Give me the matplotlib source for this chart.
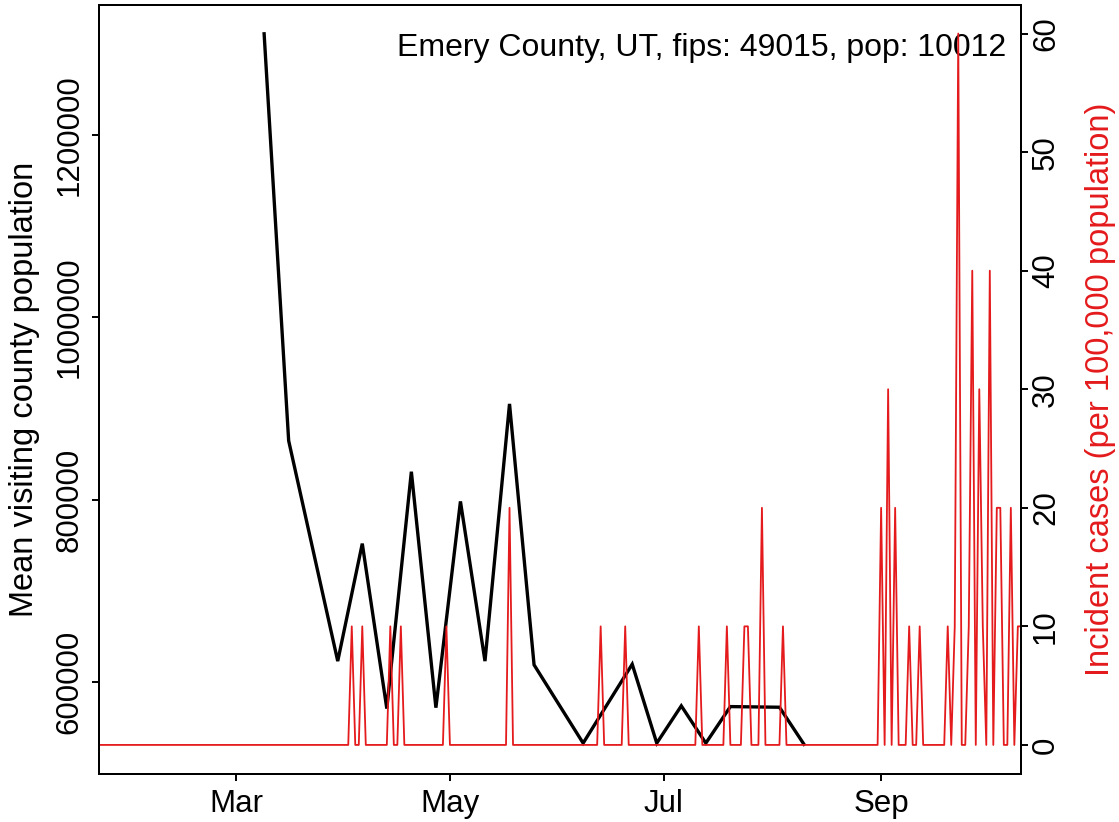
import matplotlib
matplotlib.use('Agg')
import matplotlib.pyplot as plt
import matplotlib.dates as mdates
import pandas as pd

plt.rcParams['font.family'] = ['Liberation Sans', 'DejaVu Sans']

# weekly mean visiting population (black line)
visit_dates = ['2020-03-09', '2020-03-16', '2020-03-30', '2020-04-06', '2020-04-13',
               '2020-04-20', '2020-04-27', '2020-05-04', '2020-05-11', '2020-05-18',
               '2020-05-25', '2020-06-08', '2020-06-22', '2020-06-29', '2020-07-06',
               '2020-07-13', '2020-07-20', '2020-08-03', '2020-08-10']
visit_means = [1311000, 864600, 622800, 751700, 570700,
               830600, 571700, 798000, 622800, 905000,
               618700, 532800, 619400, 532800, 573700,
               532800, 572900, 572200, 531500]

# daily incident cases per 100k (red line), zero on all other days
case_dates = ['2020-04-03', '2020-04-06', '2020-04-14', '2020-04-17', '2020-04-30',
              '2020-05-18', '2020-06-13', '2020-06-20', '2020-07-11', '2020-07-19',
              '2020-07-24', '2020-07-25', '2020-07-29', '2020-08-04', '2020-09-01',
              '2020-09-03', '2020-09-05', '2020-09-09', '2020-09-12', '2020-09-20',
              '2020-09-22', '2020-09-23', '2020-09-26', '2020-09-27', '2020-09-29',
              '2020-09-30', '2020-10-02', '2020-10-04', '2020-10-05', '2020-10-08',
              '2020-10-10', '2020-10-11']
case_rates = [10, 10, 10, 10, 10,
              20, 10, 10, 10, 10,
              10, 10, 20, 10, 20,
              30, 20, 10, 10, 10,
              10, 60, 10, 40, 30,
              10, 40, 20, 20, 20,
              10, 10]
series_start, series_end = '2020-01-21', '2020-10-11'

month_ticks = ['2020-03-01', '2020-05-01', '2020-07-01', '2020-09-01']
month_labels = ['Mar', 'May', 'Jul', 'Sep']
left_ticks = [600000, 800000, 1000000, 1200000]
right_ticks = [0, 10, 20, 30, 40, 50, 60]
title = 'Emery County, UT, fips: 49015, pop: 10012'

days = pd.date_range(series_start, series_end, freq='D')
incident = pd.Series(0.0, index=days)
incident[pd.to_datetime(case_dates)] = case_rates

W, H = 1119, 822
fig = plt.figure(figsize=(W / 100, H / 100), dpi=100)
L, R, T, B = 99, 1021, 5, 773.5
ax = fig.add_axes([L / W, 1 - B / H, (R - L) / W, (B - T) / H])

ax.plot(pd.to_datetime(visit_dates), visit_means, color='black', lw=2.4,
        solid_joinstyle='miter')
ax.set_ylim(499500, 1342600)
mar1 = pd.Timestamp('2020-03-01')
ax.set_xlim(mdates.date2num(mar1 - pd.Timedelta(days=39.1)),
            mdates.date2num(mar1 + pd.Timedelta(days=223.9)))

fs = 23.5
tfs = 22.5
ax.set_xticks(pd.to_datetime(month_ticks))
ax.set_xticklabels(month_labels, fontsize=tfs)
ax.set_yticks(left_ticks)
ax.set_yticklabels([str(v) for v in left_ticks], fontsize=tfs, rotation=90,
                   va='center', ha='center')
ax.tick_params(axis='x', length=5, width=1.4, pad=6)
ax.tick_params(axis='y', length=5, width=1.4, pad=16)

ax2 = ax.twinx()
ax2.plot(incident.index, incident.values, color='#e41a1c', lw=1.3)
ax2.set_ylim(-2.41, 62.41)
ax2.set_yticks(right_ticks)
ax2.set_yticklabels([str(v) for v in right_ticks], fontsize=tfs, rotation=90,
                    va='center', ha='center')
ax2.tick_params(axis='y', length=5, width=1.4, pad=13)
ax2.set_xlim(ax.get_xlim())

for a in (ax, ax2):
    for s in a.spines.values():
        s.set_linewidth(1.4)

ax.text(0.984, 0.944, title, transform=ax.transAxes, ha='right', va='center',
        fontsize=23)
fig.text(25 / W, 1 - (T + B) / 2 / H, 'Mean visiting county population',
         rotation=90, ha='center', va='center', fontsize=fs)
fig.text(1100 / W, 1 - (T + B) / 2 / H, 'Incident cases (per 100,000 population)',
         rotation=90, ha='center', va='center', fontsize=fs, color='#e41a1c')

fig.savefig('out.png', dpi=100)
